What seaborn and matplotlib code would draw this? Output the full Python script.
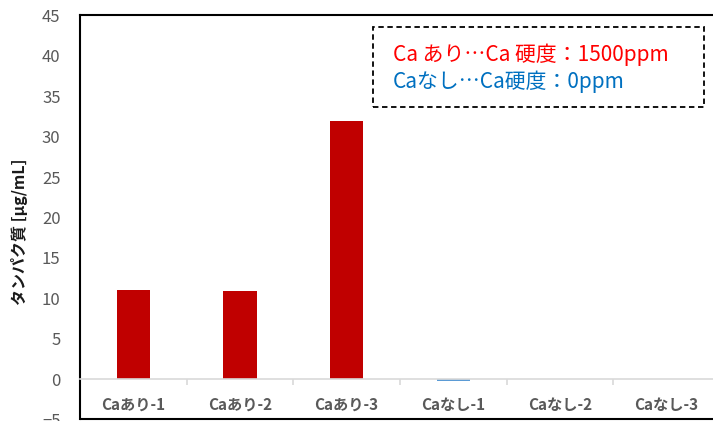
import matplotlib
matplotlib.use("Agg")
import matplotlib.pyplot as plt
from matplotlib.patches import Rectangle
import seaborn as sns
import pandas as pd

# dados
categories = ["Caあり-1", "Caあり-2", "Caあり-3", "Caなし-1", "Caなし-2", "Caなし-3"]
values = [11.0, 10.85, 32.0, -0.25, 0.0, 0.0]
bar_colors = ["#c00000", "#c00000", "#c00000", "#5b9bd5", "#5b9bd5", "#5b9bd5"]
y_ticks = [-5, 0, 5, 10, 15, 20, 25, 30, 35, 40, 45]
note_lines = ["Ca あり…Ca 硬度：1500ppm", "Caなし…Ca硬度：0ppm"]
note_colors = ["#ff0000", "#0070c0"]

df = pd.DataFrame({"categoria": categories, "valor": values})

sns.set_theme(style="white")
plt.rcParams["font.family"] = ["Noto Sans CJK JP", "DejaVu Sans"]

fig = plt.figure(figsize=(7.13, 4.21), dpi=100)
ax = fig.add_axes([0.1122, 0.0036, 0.8976, 0.9596])

sns.barplot(data=df, x="categoria", y="valor", hue="categoria",
            palette=dict(zip(categories, bar_colors)), legend=False,
            width=0.31, saturation=1, ax=ax, edgecolor="none")

ax.set_ylim(-5, 45)
ax.set_xlim(-0.5, 5.5)
ax.set_yticks(y_ticks)
ax.tick_params(axis="y", length=0, pad=14, labelsize=12, labelcolor="#595959")

# eixo x na linha do zero
ax.spines["bottom"].set_position(("data", 0))
ax.spines["bottom"].set_color("#d9d9d9")
ax.spines["bottom"].set_linewidth(1.2)
ax.set_xticks([i + 0.5 for i in range(-1, 6)], minor=True)
ax.tick_params(axis="x", which="minor", length=4, width=1.2, color="#d9d9d9",
               direction="out", bottom=True)
ax.tick_params(axis="x", which="major", length=0, pad=13, labelsize=11,
               labelcolor="#595959")
for lbl in ax.get_xticklabels():
    lbl.set_fontweight("bold")

for side in ["left", "top", "right"]:
    ax.spines[side].set_color("black")
    ax.spines[side].set_linewidth(1.5)
ax.plot([0, 1], [0, 0], transform=ax.transAxes, color="black", lw=1.5,
        clip_on=False)

ax.set_xlabel("")
ax.set_ylabel("タンパク質 [µg/mL]", fontsize=11.5, fontweight="bold",
              color="#1a1a1a")
ax.yaxis.set_label_coords(-0.082, 0.465)

# caixa de nota tracejada
fig.patches.append(Rectangle((0.523, 0.746), 0.464, 0.19,
                             transform=fig.transFigure, fill=True,
                             facecolor="white", edgecolor="black",
                             linestyle=(0, (3, 2)), lw=1.3))
for i, (txt, col) in enumerate(zip(note_lines, note_colors)):
    fig.text(0.551, 0.869 - i * 0.064, txt, color=col, fontsize=15,
             va="center", ha="left")

plt.savefig("out.png", dpi=100)
plt.close()
